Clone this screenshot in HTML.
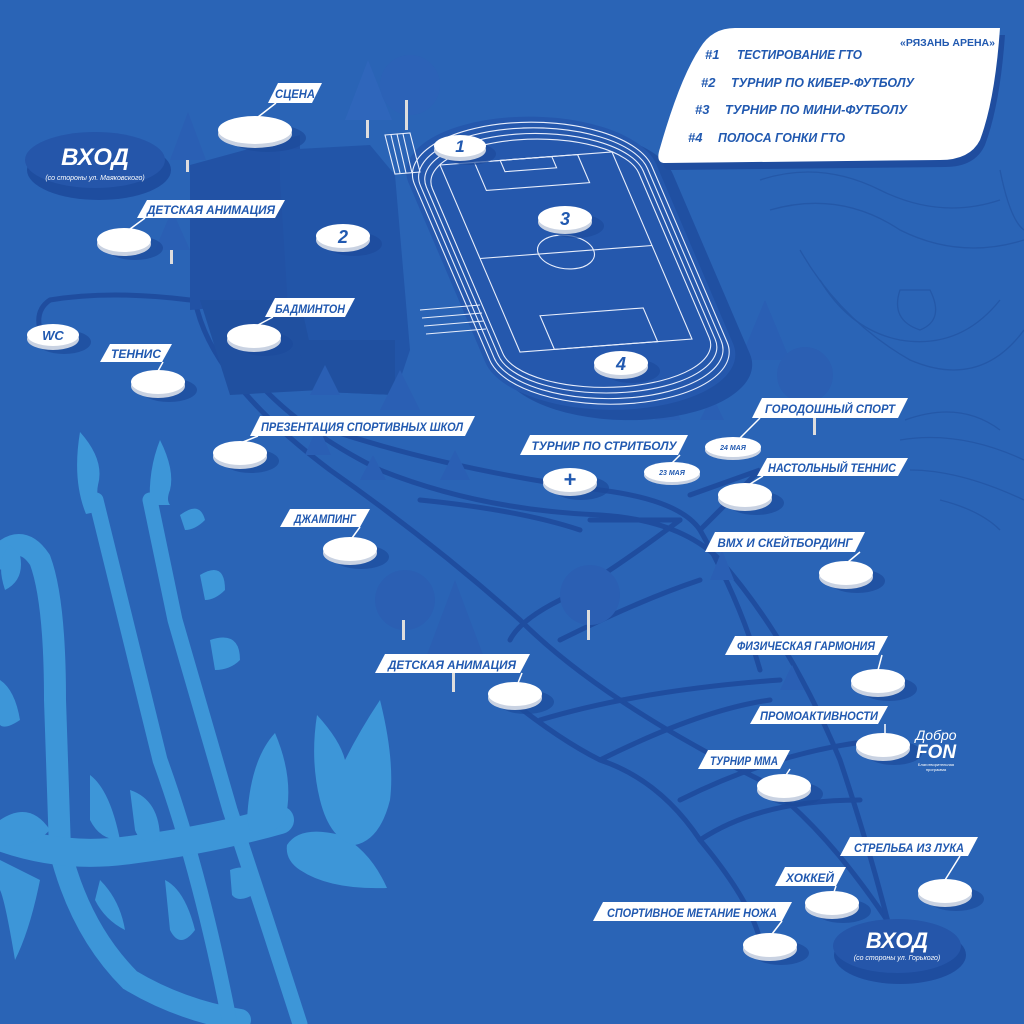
<!DOCTYPE html>
<html><head><meta charset="utf-8"><style>html,body{margin:0;padding:0;background:#2a64b6}svg{display:block}</style></head>
<body>
<svg width="1024" height="1024" viewBox="0 0 1024 1024" xmlns="http://www.w3.org/2000/svg" font-family="Liberation Sans, sans-serif">
<rect width="1024" height="1024" fill="#2a64b6"/>
<!-- contour lines -->
<g fill="none" stroke="#2458a8" stroke-width="1.3">
<path d="M820 280 Q850 330 900 340 Q960 350 1000 300"/><path d="M800 250 Q840 320 910 360 Q980 390 1024 330"/>
<path d="M900 290 Q890 320 920 330 Q945 320 930 290 Z"/><path d="M905 420 Q960 400 1000 430"/>
<path d="M900 440 Q960 430 1024 460"/><path d="M910 470 Q960 470 1024 500"/><path d="M940 500 Q980 510 1000 530"/>
<path d="M760 180 Q820 160 880 190 Q940 220 1000 200"/><path d="M770 210 Q840 190 900 230 Q960 260 1024 240"/>
<path d="M1000 170 Q1010 220 1024 230"/>
</g>
<!-- paths -->
<g fill="none" stroke="#1f4d9f" stroke-width="5" stroke-linecap="round">
<path d="M190 300 Q110 290 50 300 Q35 310 40 330"/>
<path d="M195 300 Q210 380 330 470 Q430 540 520 620 Q600 700 760 780 Q830 830 900 940"/>
<path d="M210 300 Q240 400 380 470 Q480 510 600 515 Q680 520 720 560 Q790 640 840 760 Q870 850 890 930"/>
<path d="M330 430 Q450 470 600 490 Q680 500 700 530 Q740 600 760 670"/>
<path d="M680 520 Q600 580 560 600 Q520 620 510 640"/>
<path d="M560 640 Q640 600 700 580"/>
<path d="M510 700 Q560 740 600 760 Q660 780 700 840 Q750 900 760 940"/>
<path d="M540 720 Q640 690 780 680"/><path d="M600 760 Q700 710 770 700"/>
<path d="M680 800 Q780 750 880 740"/><path d="M700 840 Q760 800 860 800"/>
<path d="M590 520 Q640 520 680 520"/><path d="M420 500 Q520 510 580 530"/>
<path d="M690 495 L760 470 L700 530"/>
</g>
<!-- buildings -->
<polygon points="190,165 300,135 300,300 190,310" fill="#2252a5"/>
<polygon points="280,150 370,145 395,175 410,350 395,395 325,392 290,340 280,180" fill="#2255a8"/>
<polygon points="200,300 300,300 320,390 230,395" fill="#2050a0"/>
<polygon points="290,340 395,340 395,395 325,392" fill="#2050a0"/>
<!-- trees -->
<g fill="#2a5fb4">
<path d="M170 160 L188 112 L206 160 Z"/><rect x="186" y="160" width="3" height="12" fill="#ddd"/>
<path d="M345 120 L368 60 L392 120 Z" fill="#2f66bb"/><rect x="366" y="120" width="3" height="18" fill="#ddd"/>
<circle cx="410" cy="85" r="30" fill="#2c62b7"/><rect x="405" y="100" width="3" height="30" fill="#ddd"/>
<path d="M155 250 L172 210 L190 250 Z"/><rect x="170" y="250" width="3" height="14" fill="#ddd"/>
<circle cx="405" cy="600" r="30" fill="#2b5fb3"/><rect x="402" y="620" width="3" height="20" fill="#ddd"/>
<path d="M425 660 L455 580 L485 660 Z" fill="#2b5fb3"/><rect x="452" y="660" width="3" height="32" fill="#ddd"/>
<circle cx="590" cy="595" r="30" fill="#2b5fb3"/><rect x="587" y="610" width="3" height="30" fill="#ddd"/>
<path d="M740 360 L765 300 L790 360 Z"/><circle cx="805" cy="375" r="28" fill="#2b5fb3"/><rect x="813" y="400" width="3" height="35" fill="#ddd"/>
<path d="M380 410 L400 370 L420 410 Z"/><path d="M310 395 L325 365 L340 395 Z"/><path d="M440 480 L455 450 L470 480 Z"/>
<path d="M305 455 L318 425 L331 455 Z"/><path d="M360 480 L373 455 L386 480 Z"/><path d="M655 420 L668 395 L681 420 Z"/>
<path d="M700 420 L712 395 L724 420 Z"/><path d="M710 580 L722 550 L734 580 Z"/><path d="M780 690 L792 665 L804 690 Z"/>
</g>
<!-- stadium in skewed coords -->
<g transform="matrix(172,-13,80,187,440,165)">
<rect x="-0.2" y="-0.2" width="1.44" height="1.56" rx="0.72" ry="0.3" fill="#2050a2" transform="translate(0.05,0.04)"/>
<rect x="-0.22" y="-0.22" width="1.44" height="1.56" rx="0.72" ry="0.3" fill="#2558ad"/>
<g fill="none" stroke="#e8eefc" stroke-width="1.1">
<rect x="-0.19" y="-0.19" width="1.38" height="1.5" rx="0.69" ry="0.28" vector-effect="non-scaling-stroke"/>
<rect x="-0.16" y="-0.16" width="1.32" height="1.44" rx="0.66" ry="0.26" vector-effect="non-scaling-stroke"/>
<rect x="-0.13" y="-0.13" width="1.26" height="1.38" rx="0.63" ry="0.24" vector-effect="non-scaling-stroke"/>
<rect x="-0.1" y="-0.1" width="1.2" height="1.32" rx="0.6" ry="0.22" vector-effect="non-scaling-stroke"/>
<rect x="0" y="0" width="1" height="1" vector-effect="non-scaling-stroke"/>
<line x1="0" y1="0.5" x2="1" y2="0.5" vector-effect="non-scaling-stroke"/>
<rect x="0.2" y="0" width="0.6" height="0.15" vector-effect="non-scaling-stroke"/>
<rect x="0.35" y="0" width="0.3" height="0.06" vector-effect="non-scaling-stroke"/>
<rect x="0.2" y="0.82" width="0.6" height="0.18" vector-effect="non-scaling-stroke"/>
<ellipse cx="0.5" cy="0.5" rx="0.16" ry="0.09" vector-effect="non-scaling-stroke"/>
</g>
</g>
<g fill="none" stroke="#e8eefc" stroke-width="1.1">
<path d="M385 135 L410 133 L420 172 L395 174 Z"/><path d="M391 135 L400 173 M397 134 L406 173 M403 134 L412 173"/>
<path d="M420 310 L480 305 M422 318 L482 313 M424 326 L484 321 M426 334 L486 329"/>
</g>
<!-- plants bottom left -->
<g fill="#3d96d8" stroke="none">
<g fill="none" stroke="#3d96d8" stroke-linecap="round">
<path d="M-5 560 Q20 530 40 560 Q55 600 55 700 L60 850 Q80 930 130 980 Q180 1010 240 1020" stroke-width="22"/>
<path d="M96 500 L160 760 Q200 870 230 1024" stroke-width="15"/>
<path d="M150 500 L175 620 L230 810 Q260 900 300 1024" stroke-width="15"/>
<path d="M-5 835 Q60 860 130 850 Q210 840 280 820" stroke-width="28"/>
</g>
<path d="M10 545 Q-5 560 5 590 Q25 580 20 555 Z"/>
<path d="M80 432 Q105 460 98 485 Q95 500 105 510 L86 514 Q72 480 80 432 Z"/>
<path d="M160 440 Q175 470 170 490 Q166 500 170 505 L150 505 Q148 470 160 440 Z"/>
<path d="M180 515 Q200 500 205 520 Q195 530 185 530 Z"/>
<path d="M200 575 Q225 560 225 590 Q215 600 205 600 Z"/>
<path d="M210 640 Q240 630 240 660 Q230 670 215 670 Z"/>
<path d="M0 820 Q30 800 50 830 Q30 850 0 845 Z"/>
<path d="M90 775 Q110 790 120 840 Q100 840 90 820 Z"/>
<path d="M130 790 Q160 800 160 840 Q140 845 135 830 Z"/>
<path d="M247 820 Q250 760 275 733 Q295 780 285 820 Q270 840 250 830 Z"/>
<path d="M287 845 Q300 825 340 835 Q370 850 387 888 Q330 890 300 870 Q285 860 287 845 Z"/>
<path d="M317 715 Q340 740 345 760 Q360 730 380 700 Q395 760 390 800 Q380 840 355 845 Q330 840 320 800 Q310 760 317 715 Z"/>
<path d="M0 860 Q20 870 40 880 Q30 930 15 960 Q5 900 0 890 Z"/>
<path d="M100 880 Q120 900 125 930 Q105 920 95 900 Z"/>
<path d="M165 880 Q185 890 195 930 Q180 950 170 930 Z"/>
<path d="M230 870 Q255 860 260 890 Q240 905 232 895 Z"/>
<path d="M0 680 Q15 690 20 720 Q5 730 0 725 Z"/>
</g>
<!-- entrances -->
<ellipse cx="99" cy="170" rx="72" ry="30" fill="#1e4d9f"/>
<ellipse cx="95" cy="160" rx="70" ry="28" fill="#2556aa"/>
<text x="95" y="165" text-anchor="middle" font-size="24" font-weight="bold" font-style="italic" fill="#fff">ВХОД</text>
<text x="95" y="180" text-anchor="middle" font-size="7" font-style="italic" fill="#fff">(со стороны ул. Маяковского)</text>
<ellipse cx="900" cy="955" rx="66" ry="29" fill="#1e4d9f"/>
<ellipse cx="897" cy="946" rx="64" ry="27" fill="#2556aa"/>
<text x="897" y="948" text-anchor="middle" font-size="22" font-weight="bold" font-style="italic" fill="#fff">ВХОД</text>
<text x="897" y="960" text-anchor="middle" font-size="7" font-style="italic" fill="#fff">(со стороны ул. Горького)</text>
<!-- discs -->
<g>
<g fill="#1d4b9c" opacity="0.7">
<ellipse cx="268" cy="138" rx="38" ry="14"/><ellipse cx="135" cy="248" rx="28" ry="12"/><ellipse cx="354" cy="244" rx="28" ry="12"/>
<ellipse cx="470" cy="154" rx="26" ry="11"/><ellipse cx="576" cy="226" rx="28" ry="12"/><ellipse cx="632" cy="371" rx="28" ry="12"/>
<ellipse cx="265" cy="344" rx="28" ry="12"/><ellipse cx="64" cy="342" rx="27" ry="12"/><ellipse cx="169" cy="390" rx="28" ry="12"/>
<ellipse cx="251" cy="461" rx="28" ry="12"/><ellipse cx="581" cy="488" rx="28" ry="12"/><ellipse cx="361" cy="557" rx="28" ry="12"/>
<ellipse cx="857" cy="581" rx="28" ry="12"/><ellipse cx="526" cy="702" rx="28" ry="12"/><ellipse cx="889" cy="689" rx="28" ry="12"/>
<ellipse cx="894" cy="753" rx="28" ry="12"/><ellipse cx="795" cy="794" rx="28" ry="12"/><ellipse cx="956" cy="899" rx="28" ry="12"/>
<ellipse cx="843" cy="911" rx="28" ry="12"/><ellipse cx="781" cy="953" rx="28" ry="12"/><ellipse cx="756" cy="503" rx="28" ry="12"/>
</g>
<g fill="#c9d2e2">
<ellipse cx="255" cy="134" rx="37" ry="14"/><ellipse cx="124" cy="244" rx="27" ry="12"/><ellipse cx="343" cy="240" rx="27" ry="12"/>
<ellipse cx="460" cy="150" rx="26" ry="11"/><ellipse cx="565" cy="222" rx="27" ry="12"/><ellipse cx="621" cy="367" rx="27" ry="12"/>
<ellipse cx="254" cy="340" rx="27" ry="12"/><ellipse cx="53" cy="339" rx="26" ry="11"/><ellipse cx="158" cy="386" rx="27" ry="12"/>
<ellipse cx="240" cy="457" rx="27" ry="12"/><ellipse cx="570" cy="484" rx="27" ry="12"/><ellipse cx="350" cy="553" rx="27" ry="12"/>
<ellipse cx="846" cy="577" rx="27" ry="12"/><ellipse cx="515" cy="698" rx="27" ry="12"/><ellipse cx="878" cy="685" rx="27" ry="12"/>
<ellipse cx="883" cy="749" rx="27" ry="12"/><ellipse cx="784" cy="790" rx="27" ry="12"/><ellipse cx="945" cy="895" rx="27" ry="12"/>
<ellipse cx="832" cy="907" rx="27" ry="12"/><ellipse cx="770" cy="949" rx="27" ry="12"/><ellipse cx="745" cy="499" rx="27" ry="12"/>
<ellipse cx="672" cy="475" rx="28" ry="10"/><ellipse cx="733" cy="450" rx="28" ry="10"/>
</g>
<g fill="#fff">
<ellipse cx="255" cy="130" rx="37" ry="14"/><ellipse cx="124" cy="240" rx="27" ry="12"/><ellipse cx="343" cy="236" rx="27" ry="12"/>
<ellipse cx="460" cy="146" rx="26" ry="11"/><ellipse cx="565" cy="218" rx="27" ry="12"/><ellipse cx="621" cy="363" rx="27" ry="12"/>
<ellipse cx="254" cy="336" rx="27" ry="12"/><ellipse cx="53" cy="335" rx="26" ry="11"/><ellipse cx="158" cy="382" rx="27" ry="12"/>
<ellipse cx="240" cy="453" rx="27" ry="12"/><ellipse cx="570" cy="480" rx="27" ry="12"/><ellipse cx="350" cy="549" rx="27" ry="12"/>
<ellipse cx="846" cy="573" rx="27" ry="12"/><ellipse cx="515" cy="694" rx="27" ry="12"/><ellipse cx="878" cy="681" rx="27" ry="12"/>
<ellipse cx="883" cy="745" rx="27" ry="12"/><ellipse cx="784" cy="786" rx="27" ry="12"/><ellipse cx="945" cy="891" rx="27" ry="12"/>
<ellipse cx="832" cy="903" rx="27" ry="12"/><ellipse cx="770" cy="945" rx="27" ry="12"/><ellipse cx="745" cy="495" rx="27" ry="12"/>
<ellipse cx="672" cy="472" rx="28" ry="10"/><ellipse cx="733" cy="447" rx="28" ry="10"/>
</g>
<g fill="#2159b0" font-weight="bold" font-style="italic" text-anchor="middle">
<text x="460" y="152" font-size="17">1</text><text x="343" y="243" font-size="18">2</text>
<text x="565" y="225" font-size="18">3</text><text x="621" y="370" font-size="18">4</text>
<text x="53" y="340" font-size="13">WC</text><text x="570" y="487" font-size="22" font-style="normal">+</text>
<text x="672" y="475" font-size="7">23 МАЯ</text><text x="733" y="450" font-size="7">24 МАЯ</text>
</g>
</g>
<!-- labels -->
<g stroke="#fff" stroke-width="1.5" fill="none">
<path d="M276 103 L258 117"/><path d="M145 218 L130 229"/><path d="M273 317 L258 325"/><path d="M163 362 L158 371"/>
<path d="M258 436 L243 442"/><path d="M680 455 L672 463"/><path d="M760 418 L740 438"/><path d="M763 476 L750 484"/>
<path d="M360 527 L352 538"/><path d="M860 552 L848 562"/><path d="M522 673 L518 683"/><path d="M882 655 L878 670"/>
<path d="M885 724 L885 734"/><path d="M790 769 L786 775"/><path d="M960 856 L945 880"/><path d="M836 886 L834 892"/><path d="M782 921 L772 934"/>
</g>
<g fill="#fff">
<polygon points="278,83 322,83 312,103 268,103"/>
<polygon points="147,200 285,200 275,218 137,218"/>
<polygon points="275,298 355,298 345,317 265,317"/>
<polygon points="110,344 172,344 162,362 100,362"/>
<polygon points="260,416 475,416 465,436 250,436"/>
<polygon points="530,435 688,435 678,455 520,455"/>
<polygon points="762,398 908,398 898,418 752,418"/>
<polygon points="767,458 908,458 898,476 757,476"/>
<polygon points="290,509 370,509 360,527 280,527"/>
<polygon points="715,532 865,532 855,552 705,552"/>
<polygon points="385,654 530,654 520,673 375,673"/>
<polygon points="735,636 888,636 878,655 725,655"/>
<polygon points="760,706 888,706 878,724 750,724"/>
<polygon points="708,750 790,750 780,769 698,769"/>
<polygon points="850,837 978,837 968,856 840,856"/>
<polygon points="785,867 846,867 836,886 775,886"/>
<polygon points="603,902 792,902 782,921 593,921"/>
</g>
<g fill="#2159b0" font-weight="bold" font-style="italic" font-size="12" text-anchor="middle">
<text x="295" y="98" textLength="40" lengthAdjust="spacingAndGlyphs">СЦЕНА</text>
<text x="211" y="214" textLength="128" lengthAdjust="spacingAndGlyphs">ДЕТСКАЯ АНИМАЦИЯ</text>
<text x="310" y="313" textLength="70" lengthAdjust="spacingAndGlyphs">БАДМИНТОН</text>
<text x="136" y="358" textLength="50" lengthAdjust="spacingAndGlyphs">ТЕННИС</text>
<text x="362" y="431" textLength="202" lengthAdjust="spacingAndGlyphs">ПРЕЗЕНТАЦИЯ СПОРТИВНЫХ ШКОЛ</text>
<text x="604" y="450" textLength="145" lengthAdjust="spacingAndGlyphs">ТУРНИР ПО СТРИТБОЛУ</text>
<text x="830" y="413" textLength="130" lengthAdjust="spacingAndGlyphs">ГОРОДОШНЫЙ СПОРТ</text>
<text x="832" y="472" textLength="128" lengthAdjust="spacingAndGlyphs">НАСТОЛЬНЫЙ ТЕННИС</text>
<text x="325" y="523" textLength="62" lengthAdjust="spacingAndGlyphs">ДЖАМПИНГ</text>
<text x="785" y="547" textLength="135" lengthAdjust="spacingAndGlyphs">BMX И СКЕЙТБОРДИНГ</text>
<text x="452" y="669" textLength="128" lengthAdjust="spacingAndGlyphs">ДЕТСКАЯ АНИМАЦИЯ</text>
<text x="806" y="650" textLength="138" lengthAdjust="spacingAndGlyphs">ФИЗИЧЕСКАЯ ГАРМОНИЯ</text>
<text x="819" y="720" textLength="118" lengthAdjust="spacingAndGlyphs">ПРОМОАКТИВНОСТИ</text>
<text x="744" y="765" textLength="68" lengthAdjust="spacingAndGlyphs">ТУРНИР ММА</text>
<text x="909" y="852" textLength="110" lengthAdjust="spacingAndGlyphs">СТРЕЛЬБА ИЗ ЛУКА</text>
<text x="810" y="882" textLength="48" lengthAdjust="spacingAndGlyphs">ХОККЕЙ</text>
<text x="692" y="917" textLength="170" lengthAdjust="spacingAndGlyphs">СПОРТИВНОЕ МЕТАНИЕ НОЖА</text>
</g>
<!-- info box -->
<path d="M735 30 L1000 30 Q995 100 980 140 Q970 162 940 162 L665 165 Q655 165 660 150 Q680 80 700 50 Q712 30 735 30 Z" fill="#1f4d9f" transform="translate(5,5)"/>
<path d="M735 28 L1000 28 Q995 100 980 140 Q970 160 940 160 L665 163 Q655 163 660 148 Q680 78 700 48 Q712 28 735 28 Z" fill="#fff"/>
<g fill="#2159b0" font-weight="bold" font-style="italic" font-size="13">
<text x="900" y="46" font-size="10" font-style="normal" textLength="95" lengthAdjust="spacingAndGlyphs">«РЯЗАНЬ АРЕНА»</text>
<text x="705" y="59">#1</text><text x="737" y="59" textLength="125" lengthAdjust="spacingAndGlyphs">ТЕСТИРОВАНИЕ ГТО</text>
<text x="701" y="87">#2</text><text x="731" y="87" textLength="183" lengthAdjust="spacingAndGlyphs">ТУРНИР ПО КИБЕР-ФУТБОЛУ</text>
<text x="695" y="114">#3</text><text x="725" y="114" textLength="182" lengthAdjust="spacingAndGlyphs">ТУРНИР ПО МИНИ-ФУТБОЛУ</text>
<text x="688" y="142">#4</text><text x="718" y="142" textLength="127" lengthAdjust="spacingAndGlyphs">ПОЛОСА ГОНКИ ГТО</text>
</g>
<!-- logo -->
<g fill="#fff" text-anchor="middle">
<text x="936" y="740" font-size="14" font-style="italic">Добро</text>
<text x="936" y="758" font-size="19" font-weight="bold" font-style="italic">FON</text>
<text x="936" y="766" font-size="4">Благотворительная</text>
<text x="936" y="771" font-size="4">программа</text>
</g>
</svg>
</body></html>
